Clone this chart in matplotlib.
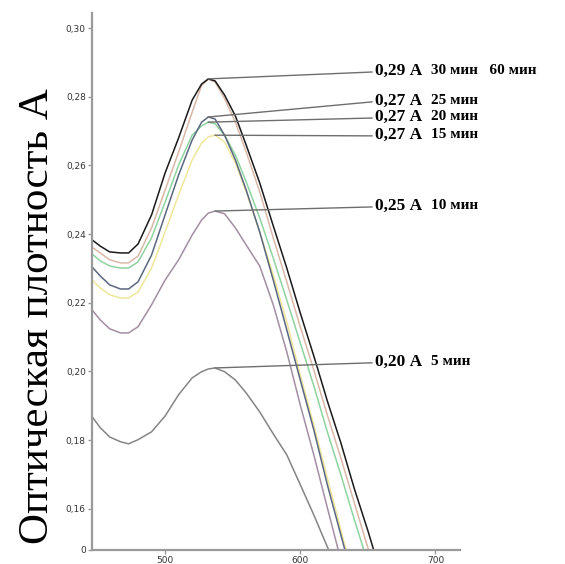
import numpy as np
import matplotlib
matplotlib.use("Agg")
import matplotlib.pyplot as plt

# wavelength grid, nm
wl = [446, 452, 459, 467, 473, 480, 490, 500, 510, 520, 527, 532, 537,
      544, 552, 560, 570, 580, 590, 600, 610, 620, 630, 640, 650, 660]

# optical density at each wavelength, one list per exposure time
a_60 = [0.2383, 0.2365, 0.2348, 0.2345, 0.2345, 0.2371, 0.2456, 0.2578, 0.2680,
        0.2790, 0.2837, 0.2852, 0.2846, 0.2805, 0.2744, 0.2659, 0.2549, 0.2424,
        0.2301, 0.2170, 0.2045, 0.1914, 0.1792, 0.1658, 0.1536, 0.1405]
a_30 = [0.2362, 0.2345, 0.2325, 0.2316, 0.2316, 0.2336, 0.2418, 0.2528, 0.2639,
        0.2755, 0.2833, 0.2851, 0.2843, 0.2795, 0.2726, 0.2639, 0.2523, 0.2389,
        0.2261, 0.2130, 0.2004, 0.1873, 0.1748, 0.1617, 0.1486, 0.1358]
a_25 = [0.2304, 0.2278, 0.2252, 0.2240, 0.2240, 0.2261, 0.2339, 0.2456, 0.2572,
        0.2674, 0.2726, 0.2741, 0.2735, 0.2688, 0.2616, 0.2528, 0.2406, 0.2266,
        0.2121, 0.1975, 0.1830, 0.1670, 0.1524, 0.1378, 0.1233, 0.1087]
a_20 = [0.2342, 0.2322, 0.2307, 0.2301, 0.2301, 0.2319, 0.2389, 0.2493, 0.2601,
        0.2688, 0.2715, 0.2726, 0.2721, 0.2688, 0.2630, 0.2552, 0.2447, 0.2330,
        0.2208, 0.2083, 0.1958, 0.1824, 0.1699, 0.1568, 0.1443, 0.1401]
a_15 = [0.2266, 0.2243, 0.2223, 0.2214, 0.2214, 0.2231, 0.2301, 0.2406, 0.2514,
        0.2616, 0.2665, 0.2683, 0.2688, 0.2668, 0.2607, 0.2523, 0.2406, 0.2281,
        0.2144, 0.1990, 0.1844, 0.1690, 0.1539, 0.1384, 0.1227, 0.1072]
a_10 = [0.2179, 0.2150, 0.2124, 0.2112, 0.2112, 0.2130, 0.2194, 0.2266, 0.2325,
        0.2397, 0.2441, 0.2461, 0.2467, 0.2459, 0.2418, 0.2368, 0.2307, 0.2194,
        0.2057, 0.1902, 0.1757, 0.1603, 0.1451, 0.1300, 0.1145, 0.0991]
a_5 = [0.1868, 0.1836, 0.1809, 0.1795, 0.1789, 0.1801, 0.1824, 0.1870, 0.1932,
       0.1981, 0.1999, 0.2007, 0.2010, 0.1999, 0.1975, 0.1937, 0.1882, 0.1818,
       0.1757, 0.1670, 0.1582, 0.1489, 0.1402, 0.1315, 0.1227, 0.1140]

# drawing order: bottom curves first
series = [
    (a_5, "#858585", "5 мин"),
    (a_10, "#a38ea3", "10 мин"),
    (a_15, "#eee79c", "15 мин"),
    (a_20, "#8fd3a0", "20 мин"),
    (a_25, "#5b6680", "25 мин"),
    (a_30, "#d9b8a8", None),
    (a_60, "#1a1a1a", "30 мин   60 мин"),
]

# height of each label row (optical density units)
label_y = {"5 мин": 0.2025, "10 мин": 0.2479, "15 мин": 0.2686,
           "20 мин": 0.2738, "25 мин": 0.2785, "30 мин   60 мин": 0.2872}

yticks = [0.16, 0.18, 0.20, 0.22, 0.24, 0.26, 0.28, 0.30]
xticks = [500, 600, 700]
y_bottom = 0.148

fig = plt.figure(figsize=(5.65, 5.64), dpi=100)
ax = fig.add_axes([0.163, 0.025, 0.652, 0.952])

for vals, col, name in series:
    ax.plot(wl, vals, color=col, lw=1.1, solid_joinstyle="round")

# leader lines from each peak to its label
for vals, col, name in series:
    if name is None:
        continue
    i = int(np.argmax(vals))
    ly = label_y[name]
    ax.plot([wl[i], 653], [vals[i], ly], color="#6e6e6e", lw=1.0)
    peak_txt = ("%.2f А" % vals[i]).replace(".", ",")
    ax.text(655, ly + 0.0003, peak_txt, fontsize=12.5, fontweight="bold",
            family="Liberation Serif", va="center", ha="left", clip_on=False)
    ax.text(697, ly + 0.0005, name, fontsize=11, fontweight="bold",
            family="Liberation Serif", va="center", ha="left", clip_on=False)

ax.set_xlim(446, 718.5)
ax.set_ylim(y_bottom, 0.3044)

ax.set_yticks([y_bottom] + yticks)
ax.set_yticklabels(["0"] + [("%.2f" % t).replace(".", ",") for t in yticks])
ax.set_xticks(xticks)
ax.set_xticklabels([str(t) for t in xticks])
ax.tick_params(axis="both", labelsize=6.5, colors="#999999", labelcolor="#333333",
               length=3, width=1, pad=1.5)

for s in ["top", "right"]:
    ax.spines[s].set_visible(False)
for s in ["left", "bottom"]:
    ax.spines[s].set_color("#9a9a9a")
    ax.spines[s].set_linewidth(1.6)

fig.text(0.067, 0.44, "Оптическая плотность А", rotation=90, fontsize=31,
         family="Liberation Serif", ha="center", va="center")

fig.savefig("out.png", dpi=100)
